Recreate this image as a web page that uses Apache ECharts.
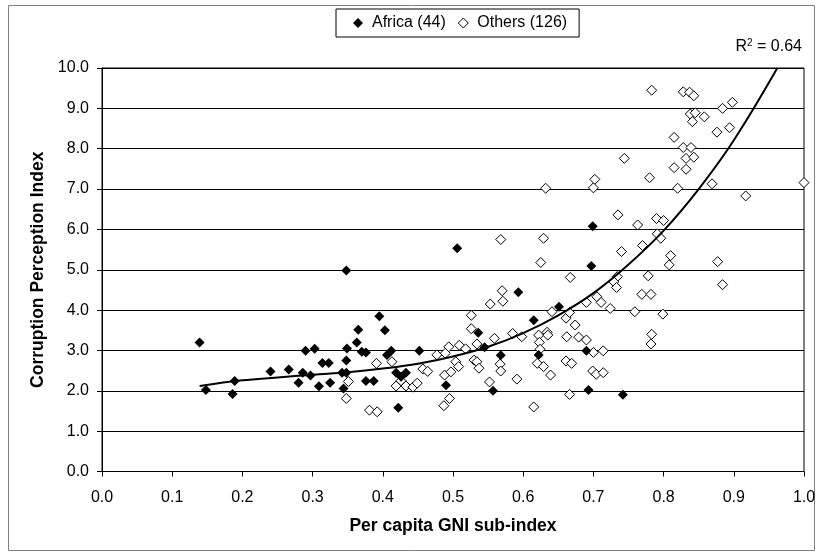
<!DOCTYPE html>
<html>
<head>
<meta charset="utf-8">
<script src="https://cdn.jsdelivr.net/npm/echarts@6/dist/echarts.min.js"></script>
<style>
html,body{margin:0;padding:0;background:#fff;}
#chart{width:820px;height:553px;}
</style>
</head>
<body>
<div id="chart"></div>
<script>
// ---- data ----
var africaX = [0.139,0.148,0.186,0.189,0.240,0.266,0.280,0.286,0.290,0.297,0.303,0.309,0.314,0.323,0.325,
  0.395,0.365,0.403,0.363,0.349,0.370,0.376,0.348,0.412,0.406,0.452,0.342,0.348,0.344,0.376,0.387,0.419,0.433,0.426,0.422,
  0.490,0.536,0.545,0.568,0.557,0.615,0.622,0.651,0.506,0.593,0.697,0.690,0.693,0.742,0.699,0.348];
var africaY = [3.20,2.02,1.92,2.24,2.48,2.53,2.20,2.45,2.99,2.38,3.04,2.11,2.69,2.69,2.20,
  3.85,3.51,3.50,3.20,3.05,2.97,2.95,2.75,2.99,2.89,2.99,2.45,2.45,2.06,2.24,2.24,2.45,2.45,2.35,1.58,
  2.14,3.44,3.08,2.88,2.00,3.75,2.89,4.08,5.53,4.44,5.09,2.99,2.02,1.90,6.08,4.98];

var othersX = [0.351,0.348,0.381,0.392,0.391,0.413,0.419,0.426,0.433,0.443,0.449,0.457,0.464,0.477,0.488,0.489,0.494,0.497,0.487,0.495,
  0.504,0.508,0.509,0.518,0.526,0.526,0.530,0.534,0.534,0.537,0.553,0.571,0.552,0.559,0.567,0.568,0.585,0.591,0.598,0.615,
  0.622,0.623,0.624,0.620,0.629,0.634,0.635,0.639,0.641,0.661,0.662,0.661,0.666,
  0.632,0.568,0.629,0.625,0.667,0.570,
  0.740,0.810,0.808,0.877,0.884,0.778,0.734,0.729,0.733,0.769,0.782,0.705,0.690,0.711,0.724,0.666,0.759,0.799,0.674,0.679,
  0.690,0.783,0.782,0.700,0.714,0.669,0.699,0.704,0.714,
  0.783,0.828,0.837,0.843,0.898,0.884,0.838,0.845,0.858,0.841,0.876,0.894,0.815,0.828,0.839,0.832,0.843,0.744,0.815,0.832,
  0.702,0.700,0.780,0.820,0.869,1.000,0.917,0.735,0.763,0.790,0.800,0.791,0.796,0.770];
var othersY = [2.23,1.81,1.52,1.48,2.68,2.72,2.12,2.25,2.12,2.09,2.19,2.54,2.48,2.89,2.39,2.93,3.09,2.47,1.63,1.81,
  2.72,2.60,3.13,3.04,3.87,3.54,2.76,2.72,3.16,2.56,4.15,4.22,2.22,3.30,2.66,2.49,3.42,2.29,3.34,1.60,
  3.38,3.20,3.03,2.68,2.60,3.45,3.38,2.39,3.96,3.80,3.34,2.74,1.91,
  7.02,5.75,5.78,5.18,4.81,4.48,
  5.45,5.35,5.12,5.20,4.63,4.85,4.83,4.70,4.56,4.39,4.39,4.33,4.19,4.19,4.04,3.94,3.96,3.90,3.63,3.33,
  3.26,3.40,3.16,2.95,2.99,2.68,2.49,2.41,2.45,
  9.45,9.41,9.40,9.31,9.15,9.00,8.86,8.89,8.79,8.67,8.41,8.52,8.28,8.03,8.03,7.76,7.79,7.76,7.53,7.49,
  7.24,7.03,7.28,7.02,7.13,7.16,6.83,6.36,6.11,6.27,6.22,5.89,5.78,5.60];

// trend line
var trendX = [0.139,0.20,0.25,0.30,0.35,0.40,0.45,0.50,0.55,0.60,0.65,0.70,0.75,0.80,0.85,0.90,0.962];
var trendY = [2.12,2.26,2.33,2.40,2.46,2.55,2.67,2.85,3.09,3.43,3.87,4.42,5.13,5.97,7.00,8.21,10.0];

var legendNames = ['Africa (44)', 'Others (126)'];
var xTitle = 'Per capita GNI sub-index';
var yTitle = 'Corruption Perception Index';
var r2Text = '0.64';

function zip(a, b){ var o=[]; for(var i=0;i<a.length;i++) o.push([a[i], b[i]]); return o; }

var FONT = 'Liberation Sans, Arial, sans-serif';
var chart = echarts.init(document.getElementById('chart'), null, {renderer:'canvas'});
chart.setOption({
  animation:false,
  backgroundColor:'#fff',
  textStyle:{fontFamily:FONT},
  grid:{left:102, top:68, right:16, bottom:81.5, show:true, borderColor:'#000', borderWidth:1, backgroundColor:'transparent'},
  legend:{
    data:[
      {name:legendNames[0], icon:'diamond', itemStyle:{color:'#000'}},
      {name:legendNames[1], icon:'diamond', itemStyle:{color:'#fff', borderColor:'#000', borderWidth:1}}
    ],
    left:336, top:9, itemWidth:10, itemHeight:10, itemGap:12,
    borderColor:'#000', borderWidth:1, padding:[6,12,6,17],
    textStyle:{fontFamily:FONT, fontSize:16, color:'#000', padding:[0,0,0,4]}
  },
  xAxis:{
    type:'value', min:0, max:1, interval:0.1,
    name:xTitle, nameLocation:'middle', nameGap:46,
    nameTextStyle:{fontFamily:FONT, fontSize:17.5, fontWeight:'bold', color:'#000'},
    axisLine:{show:true, onZero:false, lineStyle:{color:'#000', width:1}},
    axisTick:{show:true, inside:false, length:5, lineStyle:{color:'#000'}},
    axisLabel:{margin:18, fontFamily:FONT, fontSize:16, color:'#000', formatter:function(v){return v.toFixed(1);}},
    splitLine:{show:false}
  },
  yAxis:{
    type:'value', min:0, max:10, interval:1,
    name:yTitle, nameLocation:'middle', nameGap:50, nameRotate:90,
    nameTextStyle:{fontFamily:FONT, fontSize:17.5, fontWeight:'bold', color:'#000'},
    axisLine:{show:true, onZero:false, lineStyle:{color:'#000', width:1}},
    axisTick:{show:true, inside:false, length:5, lineStyle:{color:'#000'}},
    axisLabel:{margin:13, fontFamily:FONT, fontSize:16, color:'#000', formatter:function(v){return v.toFixed(1);}},
    splitLine:{show:true, lineStyle:{color:'#000', width:1}}
  },
  series:[
    {name:legendNames[1], type:'scatter', symbol:'diamond', symbolSize:10, data:zip(othersX, othersY),
     itemStyle:{color:'#fff', borderColor:'#000', borderWidth:1, opacity:1}, z:2},
    {name:legendNames[0], type:'scatter', symbol:'diamond', symbolSize:10, data:zip(africaX, africaY),
     itemStyle:{color:'#000', opacity:1}, z:3},
    {name:'trend', type:'line', smooth:0.4, showSymbol:false, symbol:'none', data:zip(trendX, trendY),
     lineStyle:{color:'#000', width:2}, z:4, silent:true}
  ],
  graphic:[
    {type:'rect', shape:{x:8.5, y:5.5, width:806, height:545}, style:{fill:'none', stroke:'#808080', lineWidth:1}, silent:true, z:-1},
    {type:'text', right:18, top:38, style:{
      text:'{a|R}{s|2}{a| = ' + r2Text + '}',
      rich:{a:{fontFamily:FONT, fontSize:16, fill:'#000', color:'#000'}, s:{fontFamily:FONT, fontSize:10, fill:'#000', color:'#000', verticalAlign:'top', padding:[0,0,8,0]}}
    }}
  ]
});
</script>
</body>
</html>
